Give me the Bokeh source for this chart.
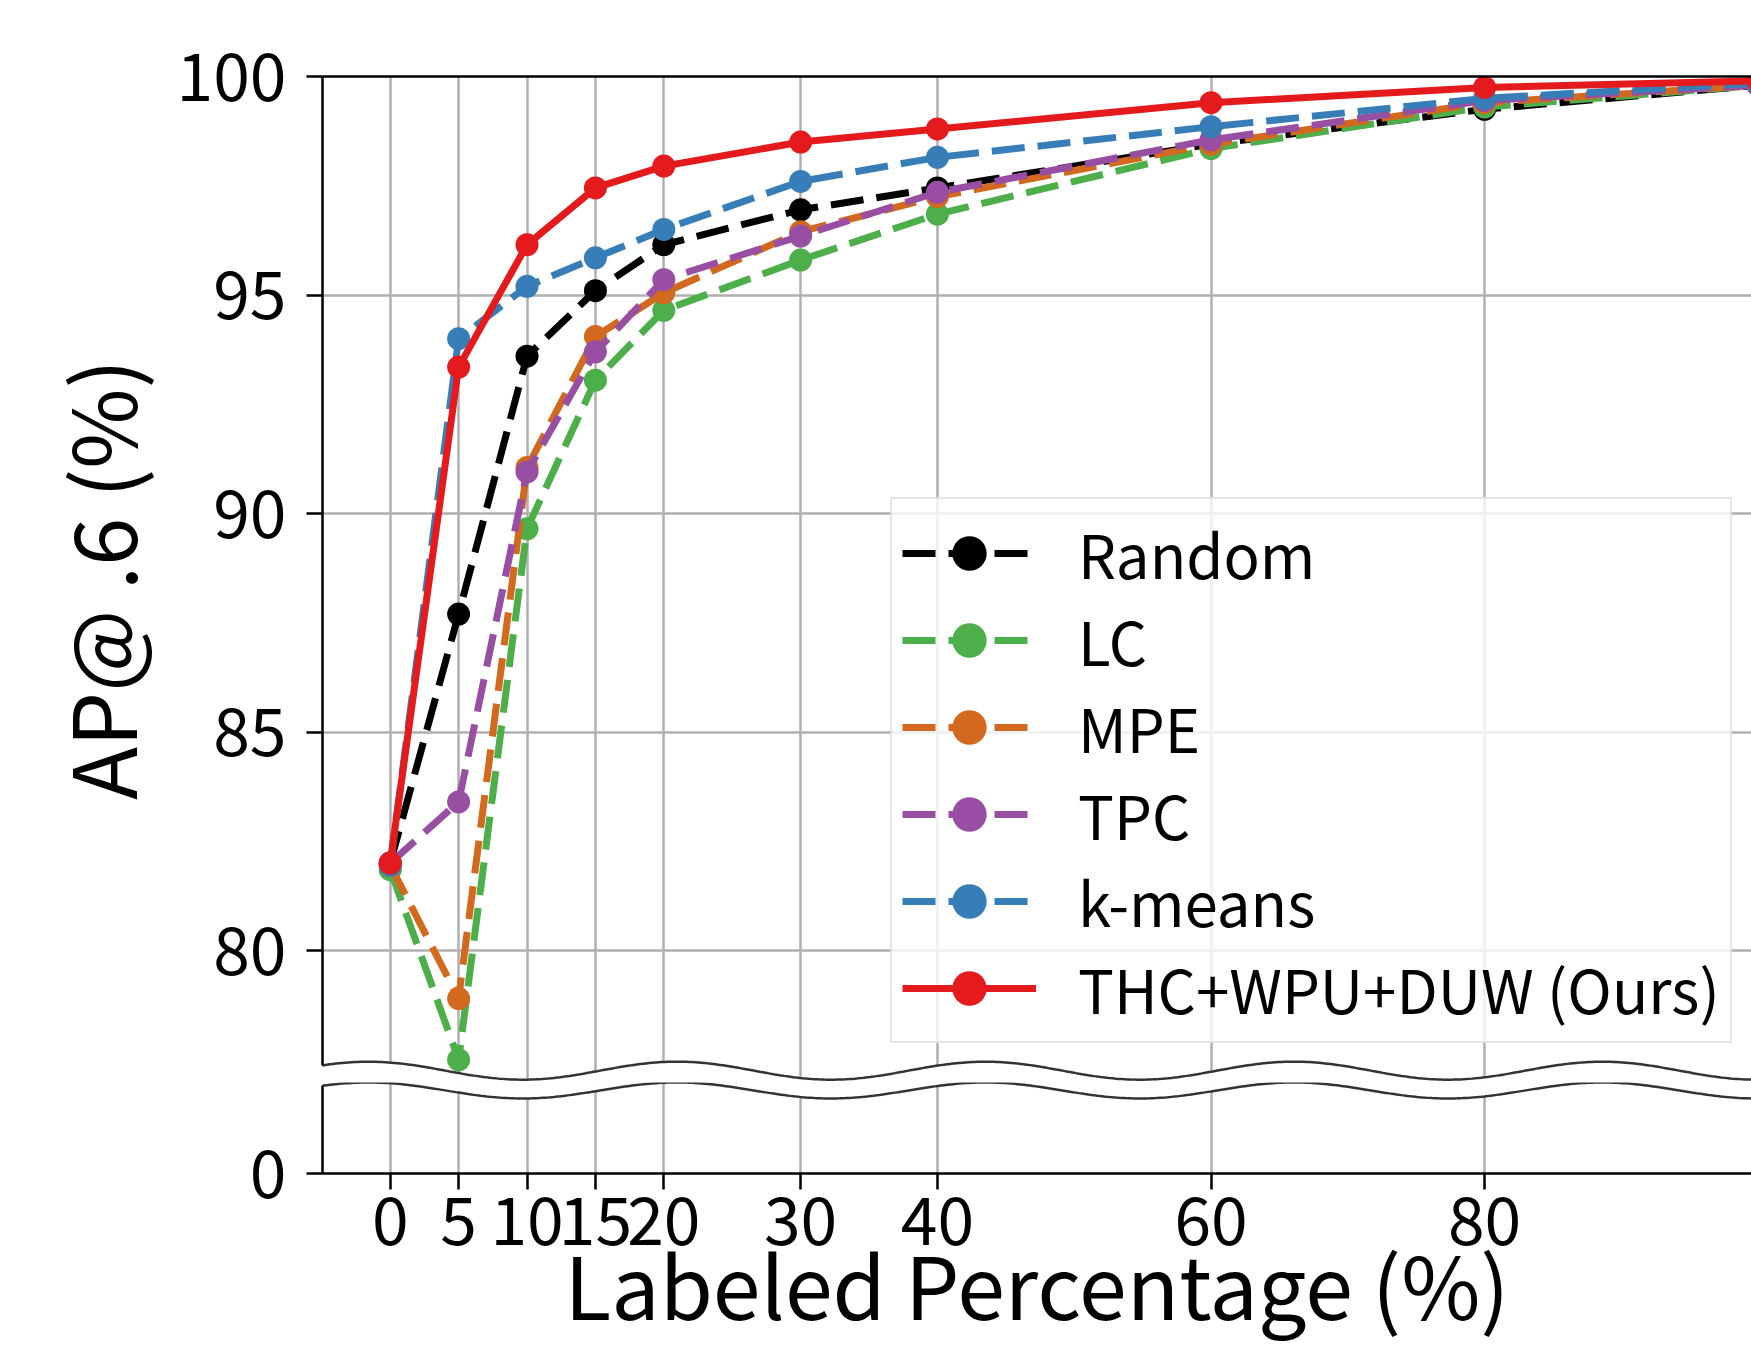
import numpy as np
from bokeh.plotting import figure
from bokeh.layouts import column
from bokeh.models import FixedTicker, Range1d, Legend, LegendItem
from bokeh.embed import file_html
from bokeh.resources import INLINE

# ---------------- data ----------------
labeled_pct = [0, 5, 10, 15, 20, 30, 40, 60, 80, 100]
random_ap = [82.0, 87.7, 93.6, 95.1, 96.15, 96.95, 97.45, 98.45, 99.25, 99.8]
lc_ap = [81.85, 77.5, 89.65, 93.05, 94.65, 95.8, 96.85, 98.35, 99.3, 99.8]
mpe_ap = [81.95, 78.9, 91.05, 94.05, 95.05, 96.45, 97.25, 98.45, 99.4, 99.8]
tpc_ap = [82.0, 83.4, 90.95, 93.7, 95.35, 96.35, 97.35, 98.55, 99.45, 99.8]
kmeans_ap = [81.95, 94.0, 95.2, 95.85, 96.5, 97.6, 98.15, 98.85, 99.5, 99.85]
ours_ap = [82.0, 93.35, 96.15, 97.45, 97.95, 98.5, 98.8, 99.4, 99.75, 99.9]

series_names = ["Random", "LC", "MPE", "TPC", "k-means", "THC+WPU+DUW (Ours)"]
series_values = [random_ap, lc_ap, mpe_ap, tpc_ap, kmeans_ap, ours_ap]
series_colors = ["#000000", "#4daf4a", "#d2691e", "#984ea3", "#377eb8", "#e41a1c"]
series_dashes = ["33 13", "33 13", "33 13", "33 13", "33 13", "solid"]

y_ticks_upper = [80, 85, 90, 95, 100]
y_ticks_lower = [0]
x_label_text = "Labeled Percentage (%)"
y_label_text = "AP@ .6 (%)"

FONT = "Noto Sans CJK JP"
TICK_FS = "66px"
YLABEL_FS = "87px"
XLABEL_FS = "86px"
LEGEND_FS = "60px"
GRID_COLOR = "#b0b0b0"

W = 1751
H_TOP = 1082
H_BOT = 265
PX_PER_Y = 43.7
LEFT_BORDER = 322
TOP_BORDER = 76
BOT_FRAME = 91

x_range = Range1d(-4.95, -4.95 + (W - LEFT_BORDER) / 13.68)
top_frame_h = H_TOP - TOP_BORDER
top = figure(width=W, height=H_TOP, x_range=x_range,
             y_range=Range1d(100 - top_frame_h / PX_PER_Y, 100),
             output_backend="svg", toolbar_location=None, x_axis_location="above",
             min_border_left=LEFT_BORDER, min_border_right=0, min_border_top=TOP_BORDER,
             min_border_bottom=0)
bot = figure(width=W, height=H_BOT, x_range=x_range,
             y_range=Range1d(0, BOT_FRAME / PX_PER_Y),
             output_backend="svg", toolbar_location=None,
             min_border_left=LEFT_BORDER, min_border_right=0, min_border_top=0,
             min_border_bottom=H_BOT - BOT_FRAME)

for p in (top, bot):
    p.outline_line_color = None
    p.background_fill_color = "white"
    p.border_fill_color = "white"
    for ax in (p.xaxis[0], p.yaxis[0]):
        ax.axis_line_width = 2.5
        ax.axis_line_color = "black"
        ax.major_tick_line_width = 2.5
        ax.major_tick_out = 16
        ax.major_tick_in = 0
        ax.minor_tick_out = 0
        ax.minor_tick_in = 0
        ax.major_label_text_font = FONT
        ax.major_label_text_font_size = TICK_FS
        ax.major_label_text_color = "black"
    p.xgrid.grid_line_color = GRID_COLOR
    p.xgrid.grid_line_width = 2.5
    p.ygrid.grid_line_color = GRID_COLOR
    p.ygrid.grid_line_width = 2.5

# top spine: an "above" axis without ticks; vertical grid uses its own ticker
top.xaxis.ticker = FixedTicker(ticks=[])
top.xaxis.major_tick_out = 0
top.xaxis.major_label_standoff = 0
top.xgrid.ticker = FixedTicker(ticks=labeled_pct)

top.yaxis.ticker = FixedTicker(ticks=y_ticks_upper)
top.yaxis.major_label_standoff = 20
top.yaxis.axis_label = y_label_text
top.yaxis.axis_label_text_font = FONT
top.yaxis.axis_label_text_font_size = YLABEL_FS
top.yaxis.axis_label_text_font_style = "normal"
top.yaxis.axis_label_text_color = "black"
top.yaxis.axis_label_standoff = 12

bot.xaxis.ticker = FixedTicker(ticks=labeled_pct)
bot.xaxis.major_label_standoff = 7
bot.xaxis.axis_label = x_label_text
bot.xaxis.axis_label_text_font = FONT
bot.xaxis.axis_label_text_font_size = XLABEL_FS
bot.xaxis.axis_label_text_font_style = "normal"
bot.xaxis.axis_label_text_color = "black"
bot.xaxis.axis_label_standoff = -28
bot.yaxis.ticker = FixedTicker(ticks=y_ticks_lower)
bot.yaxis.major_label_standoff = 20

# data
items = []
for name, vals, col, dash in zip(series_names, series_values, series_colors, series_dashes):
    lr = top.line(labeled_pct, vals, line_color=col, line_width=7, line_dash=dash)
    sr = top.scatter(labeled_pct, vals, size=23, marker="circle", fill_color=col,
                     line_color=col, line_width=0)
    items.append(LegendItem(label=name, renderers=[lr, sr]))

# broken-axis wavy band
phase_x = -1.59
period = 22.55
xs = np.linspace(-8, 104, 500)
wave = np.cos(2 * np.pi * (xs - phase_x) / period)
upper = 77.25 + 0.206 * wave
lower = 1.90 + 0.183 * wave
top.patch(np.concatenate([xs, xs[::-1]]),
          np.concatenate([upper, np.full_like(xs, 70.0)]),
          fill_color="white", line_color=None)
top.line(xs, upper, line_color="#333333", line_width=2.5)
bot.patch(np.concatenate([xs, xs[::-1]]),
          np.concatenate([lower, np.full_like(xs, 10.0)]),
          fill_color="white", line_color=None)
bot.line(xs, lower, line_color="#333333", line_width=2.5)

w0 = np.cos(2 * np.pi * (x_range.start - phase_x) / period)
top.yaxis.bounds = (77.25 + 0.206 * w0, 100)
bot.yaxis.bounds = (0, 1.90 + 0.183 * w0)

legend = Legend(items=items, location=(568, 39), margin=0, padding=10, spacing=0,
                label_text_font=FONT, label_text_font_size=LEGEND_FS, label_text_color="black",
                label_height=86, glyph_height=86, glyph_width=134, label_standoff=42,
                border_line_color="#cccccc", border_line_width=2,
                background_fill_color="white", background_fill_alpha=0.8)
top.add_layout(legend)

layout = column(top, bot, spacing=0)
open("out.html", "w").write(file_html(layout, INLINE))
